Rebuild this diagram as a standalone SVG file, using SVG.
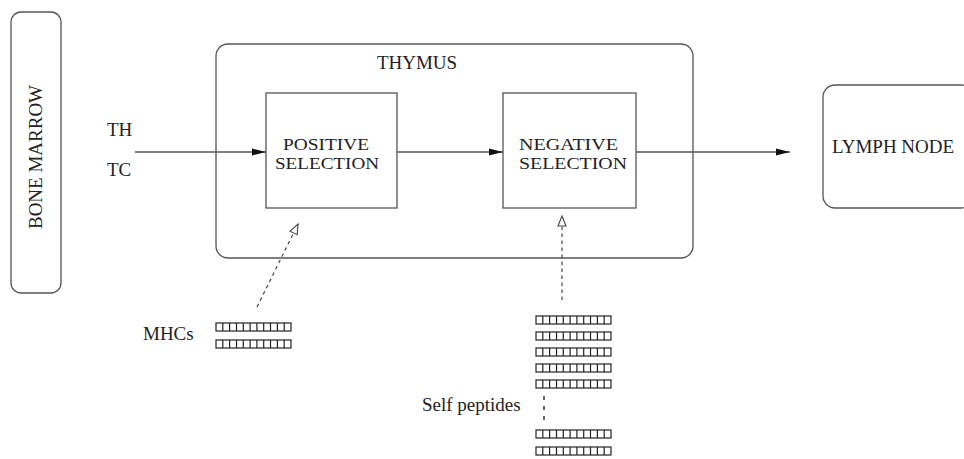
<svg xmlns="http://www.w3.org/2000/svg" width="964" height="459" viewBox="0 0 964 459">
  <style>
    .box { fill: #ffffff; stroke: #555555; stroke-width: 1.3; }
    .lbl { font-family: "Liberation Serif", "Times New Roman", serif; font-size: 19px; fill: #222222; }
    .sel { font-size: 16.5px; }
    .mid { text-anchor: middle; }
    .flow { fill: none; stroke: #555555; stroke-width: 1.3; }
    .dash { fill: none; stroke: #444444; stroke-width: 1.2; stroke-dasharray: 3.5 3.5; }
    .cell { fill: #ffffff; stroke: #222222; stroke-width: 1.2; }
  </style>
  <defs>
    <marker id="solid" viewBox="0 0 14 8" refX="14" refY="4" markerWidth="14" markerHeight="8" markerUnits="userSpaceOnUse" orient="auto">
      <path d="M0,0.5 L14,4 L0,7.5 Z" fill="#111111"/>
    </marker>
    <marker id="open" viewBox="0 0 12 10" refX="11" refY="5" markerWidth="12" markerHeight="10" markerUnits="userSpaceOnUse" orient="auto">
      <path d="M1,1 L11,5 L1,9 Z" fill="#ffffff" stroke="#444444" stroke-width="1.1"/>
    </marker>
    <!-- one peptide / MHC strand: 11 cells -->
    <g id="strand">
      <rect class="cell" x="0" y="0" width="75" height="8"/>
      <path class="cell" d="M6.8,0V8M13.6,0V8M20.5,0V8M27.3,0V8M34.1,0V8M40.9,0V8M47.7,0V8M54.5,0V8M61.4,0V8M68.2,0V8"/>
    </g>
  </defs>

  <rect width="964" height="459" fill="#ffffff"/>

  <g id="bone-marrow">
    <rect class="box" x="11" y="12" width="50" height="281" rx="10"/>
    <text class="lbl mid" transform="translate(42,157) rotate(-90)">BONE MARROW</text>
  </g>

  <g id="cell-types">
    <text class="lbl" x="107" y="136">TH</text>
    <text class="lbl" x="107" y="176">TC</text>
  </g>

  <g id="thymus">
    <rect class="box" x="216" y="44" width="477" height="214" rx="12"/>
    <text class="lbl mid" x="417" y="69">THYMUS</text>
  </g>

  <g id="positive-selection">
    <rect class="box" x="266" y="93" width="131" height="115"/>
    <text class="lbl sel" x="283" y="150" textLength="86" lengthAdjust="spacingAndGlyphs">POSITIVE</text>
    <text class="lbl sel" x="275" y="169" textLength="104" lengthAdjust="spacingAndGlyphs">SELECTION</text>
  </g>

  <g id="negative-selection">
    <rect class="box" x="503" y="93" width="133" height="115"/>
    <text class="lbl sel" x="519" y="150" textLength="99" lengthAdjust="spacingAndGlyphs">NEGATIVE</text>
    <text class="lbl sel" x="519" y="169" textLength="108" lengthAdjust="spacingAndGlyphs">SELECTION</text>
  </g>

  <g id="lymph-node">
    <rect class="box" x="823" y="85" width="150" height="123" rx="12"/>
    <text class="lbl" x="832" y="153">LYMPH NODE</text>
  </g>

  <g id="mhcs">
    <text class="lbl" x="143" y="340">MHCs</text>
    <use href="#strand" x="216" y="323"/>
    <use href="#strand" x="216" y="340"/>
  </g>

  <g id="self-peptides">
    <text class="lbl" x="422" y="411">Self peptides</text>
    <use href="#strand" x="536" y="316"/>
    <use href="#strand" x="536" y="332"/>
    <use href="#strand" x="536" y="348"/>
    <use href="#strand" x="536" y="364"/>
    <use href="#strand" x="536" y="380"/>
    <path d="M544,396V400M544,406V410M544,416V420" stroke="#333333" stroke-width="1.5"/>
    <use href="#strand" x="536" y="430"/>
    <use href="#strand" x="536" y="447"/>
  </g>

  <g id="connectors">
    <path class="flow" d="M135,152H266" marker-end="url(#solid)"/>
    <path class="flow" d="M397,152H503" marker-end="url(#solid)"/>
    <path class="flow" d="M636,152H790" marker-end="url(#solid)"/>
    <path class="dash" d="M257,307L298,224" marker-end="url(#open)"/>
    <path class="dash" d="M562,300V216" marker-end="url(#open)"/>
  </g>
</svg>
